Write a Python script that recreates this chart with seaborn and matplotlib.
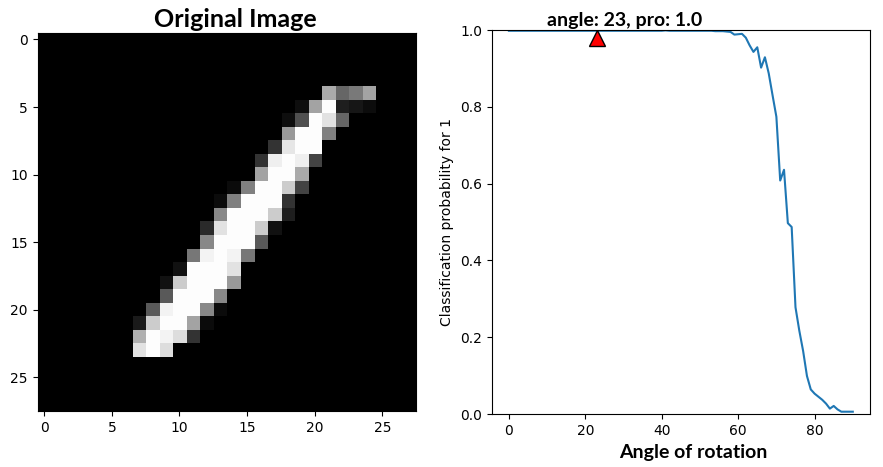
import numpy as np
import matplotlib
matplotlib.use('Agg')
import matplotlib.pyplot as plt
import seaborn as sns

# MNIST digit: for each row -> first lit column and the gray levels (0-255)
ROW_START = {4: 21, 5: 19, 6: 18, 7: 18, 8: 17, 9: 16, 10: 16, 11: 14, 12: 13,
             13: 13, 14: 12, 15: 12, 16: 11, 17: 10, 18: 9, 19: 9, 20: 8,
             21: 7, 22: 7, 23: 7}
ROW_VALUES = {
    4: [170, 102, 122, 164],
    5: [14, 164, 253, 30, 22, 12],
    6: [14, 80, 253, 226, 102],
    7: [153, 253, 253, 128],
    8: [51, 230, 253, 253],
    9: [51, 239, 253, 239, 67],
    10: [164, 253, 253, 170],
    11: [11, 128, 253, 253, 204, 67],
    12: [11, 128, 253, 253, 253, 51],
    13: [136, 253, 253, 253, 204, 30],
    14: [42, 226, 253, 253, 204, 17],
    15: [136, 253, 253, 253, 90],
    16: [119, 244, 253, 244, 119],
    17: [17, 253, 253, 253, 226],
    18: [17, 204, 253, 253, 253, 153],
    19: [90, 253, 253, 253, 136],
    20: [90, 244, 253, 253, 136, 11],
    21: [26, 204, 253, 253, 164, 11],
    22: [176, 253, 244, 221, 51],
    23: [226, 253, 221],
}

# rotation curve
angles = list(range(0, 91))
probs = [
    0.998, 0.998, 0.998, 0.998, 0.998, 0.998, 0.998, 0.998, 0.998, 0.998,
    0.998, 0.998, 0.998, 0.998, 0.998, 0.998, 0.998, 0.998, 0.998, 0.998,
    0.998, 0.998, 0.998, 0.998, 0.998, 0.998, 0.998, 0.998, 0.998, 0.998,
    0.998, 0.998, 0.998, 0.998, 0.998, 0.998, 0.998, 0.998, 0.998, 0.998,
    0.998, 0.999, 0.998, 0.998, 0.998, 0.998, 0.998, 0.998, 0.998, 0.998,
    0.998, 0.998, 0.998, 0.998, 0.997, 0.997, 0.997, 0.996, 0.995, 0.988,
    0.989, 0.990, 0.980, 0.960, 0.943, 0.955, 0.902, 0.929, 0.887, 0.830,
    0.774, 0.608, 0.636, 0.497, 0.487, 0.278, 0.217, 0.164, 0.099, 0.064,
    0.053, 0.045, 0.037, 0.027, 0.014, 0.021, 0.012, 0.006, 0.006, 0.006,
    0.006,
]
best_angle = 23
best_prob = 1.0

img = np.zeros((28, 28))
for r, start in ROW_START.items():
    vals = ROW_VALUES[r]
    img[r, start:start + len(vals)] = vals

W, H = 883, 467
fig = plt.figure(figsize=(W / 100, H / 100), dpi=100)
bold_font = ['Lato', 'DejaVu Sans']

# left: the image
ax1 = fig.add_axes([37.5 / W, 1 - 412 / H, 378.6 / W, 380 / H])
ax1.imshow(img, cmap='gray', vmin=0, vmax=255)
ax1.set_title('Original Image', fontsize=18, fontweight='bold',
              family=bold_font, x=0.522, pad=4.3)

# right: probability vs angle
ax2 = fig.add_axes([491.7 / W, 1 - 414 / H, 378.3 / W, 384 / H])
sns.lineplot(x=angles, y=probs, ax=ax2, color='#1f77b4', linewidth=1.5)
ax2.plot(best_angle, best_prob - 0.022, marker='^', color='red',
         markeredgecolor='black', markersize=12, linestyle='none')
ax2.set_ylim(0, 1)
ax2.set_xticks([0, 20, 40, 60, 80])
ax2.set_xlabel('Angle of rotation', fontsize=14, fontweight='bold',
               family=bold_font)
ax2.xaxis.label.set_va('baseline')
ax2.xaxis.set_label_coords(0.533, -0.1146)
ax2.set_ylabel('Classification probability for 1')
ax2.set_title(f'angle: {best_angle}, pro: {best_prob}', fontsize=14,
              fontweight='bold', family=bold_font, x=0.352, pad=2.9)

fig.savefig('out.png', dpi=100)
